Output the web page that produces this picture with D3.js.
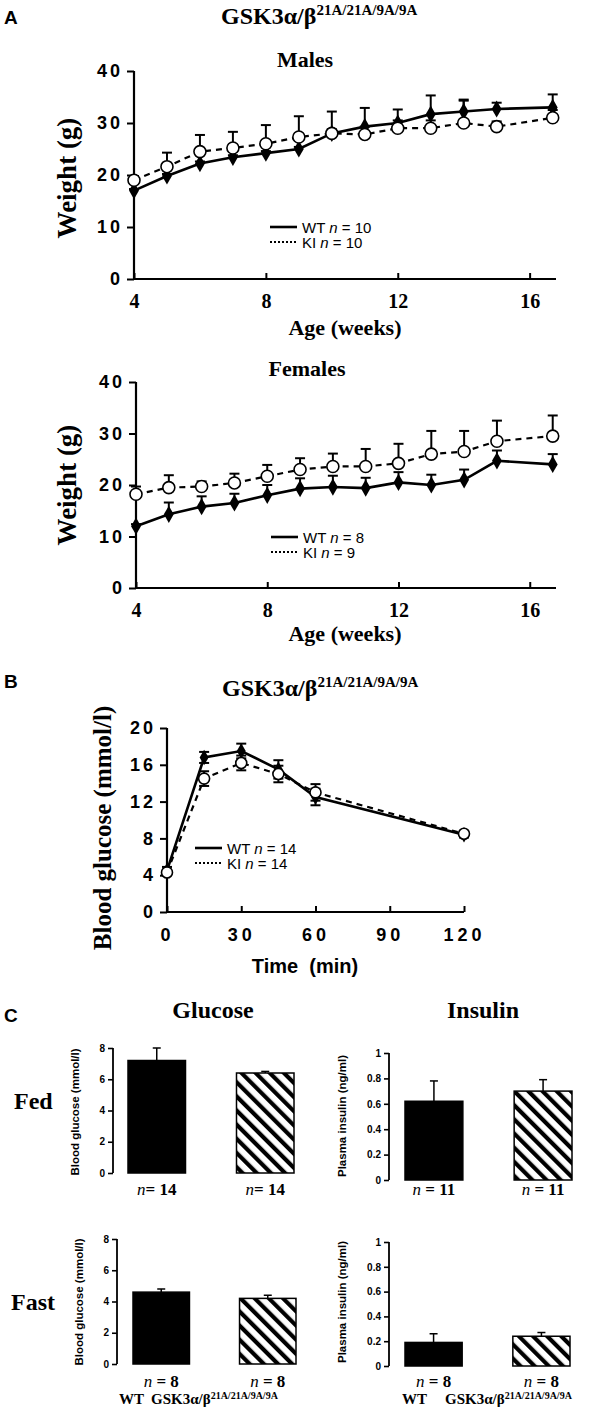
<!DOCTYPE html>
<html><head><meta charset="utf-8">
<script src="https://cdn.jsdelivr.net/npm/d3@7"></script>
<style>
body{margin:0;background:#fff;}
svg{display:block;}
</style>
</head><body>
<svg id="c" width="594" height="1410"></svg>
<script>
// ---------- DATA ----------
const weeks = [4,5,6,7,8,9,10,11,12,13,14,15,16.7];
const weekTicks = [4,8,12,16];
const weightTicks = [0,10,20,30,40];
const maleWT    = [17.0,19.8,22.2,23.4,24.2,25.0,28.0,29.3,30.0,31.7,32.2,32.7,33.0];
const maleWTerr = [0.3,0.4,0.4,0.4,0.4,0.4,0.8,3.6,2.6,3.6,2.3,1.2,2.5];
const maleKI    = [19.0,21.6,24.5,25.2,26.0,27.3,28.0,27.8,29.0,29.0,30.0,29.3,31.0];
const maleKIerr = [0.8,2.7,3.2,3.1,3.6,4.0,4.2,1.5,1.5,1.5,4.3,1.0,1.5];
const femaleWT    = [12.0,14.3,15.8,16.5,18.0,19.3,19.6,19.4,20.5,20.0,21.0,24.7,24.0];
const femaleWTerr = [0.4,2.3,2.0,1.8,2.0,2.0,2.2,2.0,2.0,2.0,2.0,2.0,2.0];
const femaleKI    = [18.2,19.5,19.7,20.4,21.7,23.0,23.6,23.6,24.2,26.0,26.5,28.5,29.5];
const femaleKIerr = [1.5,2.4,1.0,1.8,2.2,2.2,2.5,3.4,3.8,4.5,4.0,4.0,4.0];

const gttTime = [0,15,30,45,60,120];
const timeTicks = [0,30,60,90,120];
const glucoseTicks = [0,4,8,12,16,20];
const gttWT    = [4.5,16.8,17.5,15.5,12.5,8.4];
const gttWTerr = [0.4,0.6,0.8,1.0,0.9,0.3];
const gttKI    = [4.3,14.5,16.2,15.0,13.0,8.5];
const gttKIerr = [0.3,0.8,0.8,0.9,0.9,0.3];

const groups = ["WT","KI"];
const fedGlucose = [7.2,6.4],  fedGlucoseErr = [0.8,0.1],  fedGlucoseN = [14,14];
const fedInsulin = [0.62,0.70], fedInsulinErr = [0.16,0.09], fedInsulinN = [11,11];
const fastGlucose = [4.6,4.2], fastGlucoseErr = [0.2,0.2], fastGlucoseN = [8,8];
const fastInsulin = [0.19,0.24], fastInsulinErr = [0.07,0.03], fastInsulinN = [8,8];
const barGlucoseTicks = [0,2,4,6,8];
const barInsulinTicks = [0,0.2,0.4,0.6,0.8,1];

// ---------- DRAW ----------
const svg = d3.select("#c");
const SERIF = '"Liberation Serif","Times New Roman",serif';
const SANS = '"Liberation Sans",Arial,sans-serif';
const INK = "#000";

function gskTitle(g, x, y, size, sup) {
  const t = g.append("text").attr("x", x).attr("y", y).attr("fill", INK)
    .attr("font-family", SERIF).attr("font-weight", "bold").attr("font-size", size);
  t.append("tspan").text("GSK3α/β");
  t.append("tspan").attr("font-size", sup).attr("dy", -size*0.36).text("21A/21A/9A/9A");
  return t;
}

function lineChart(o) {
  const g = svg.append("g");
  const x = d3.scaleLinear().domain(o.xDomain).range(o.xRange);
  const y = d3.scaleLinear().domain(o.yDomain).range(o.yRange);
  const ya = g.append("g").attr("transform", `translate(${o.xRange[0]},0)`)
    .call(d3.axisLeft(y).tickValues(o.yTicks).tickSize(7).tickFormat(d=>d));
  ya.select(".domain").attr("stroke-width", 2.2).attr("d", `M0,${o.yRange[0]}V${o.yRange[1]}`);
  ya.selectAll(".tick line").attr("stroke-width", 2);
  ya.selectAll(".tick text").attr("font-family", SANS).attr("font-weight", "bold")
    .attr("font-size", 18).attr("letter-spacing", o.yLS).attr("x", -11).attr("fill",INK);
  const xa = g.append("g").attr("transform", `translate(0,${o.yRange[0]})`)
    .call(d3.axisBottom(x).tickValues(o.xTicks).tickSize(-6).tickFormat(d=>d));
  xa.select(".domain").attr("stroke-width", 2.2).attr("d", `M${o.xRange[0]},0H${o.xRange[1]}`);
  xa.selectAll(".tick line").attr("stroke-width", 2);
  xa.selectAll(".tick text").attr("font-family", o.xFont).attr("font-weight", "bold")
    .attr("font-size", o.xFS).attr("letter-spacing", o.xLS).attr("y", o.xLabelDy).attr("fill",INK);
  const line = (arr) => d3.line().x((d,i)=>x(o.xs[i])).y(d=>y(d))(arr);
  g.append("path").attr("d", line(o.ki)).attr("fill","none").attr("stroke",INK)
    .attr("stroke-width", 2.2).attr("stroke-dasharray", "6,5");
  g.append("path").attr("d", line(o.wt)).attr("fill","none").attr("stroke",INK)
    .attr("stroke-width", 2.6);
  function err(vals, errs, both) {
    vals.forEach((v,i)=>{
      const cx = x(o.xs[i]);
      const y1 = y(v+errs[i]), y0 = both ? y(v-errs[i]) : y(v);
      g.append("line").attr("x1",cx).attr("x2",cx).attr("y1",y0).attr("y2",y1)
        .attr("stroke",INK).attr("stroke-width",2);
      g.append("line").attr("x1",cx-5).attr("x2",cx+5).attr("y1",y1).attr("y2",y1)
        .attr("stroke",INK).attr("stroke-width",2);
      if (both) g.append("line").attr("x1",cx-5).attr("x2",cx+5).attr("y1",y0).attr("y2",y0)
        .attr("stroke",INK).attr("stroke-width",2);
    });
  }
  err(o.wt, o.wtErr, o.both);
  err(o.ki, o.kiErr, o.both);
  g.selectAll(".wt").data(o.wt).join("path")
    .attr("d", d3.symbol().type(d3.symbolDiamond).size(o.msize))
    .attr("transform",(d,i)=>`translate(${x(o.xs[i])},${y(d)})`).attr("fill",INK);
  g.selectAll(".ki").data(o.ki).join("circle")
    .attr("cx",(d,i)=>x(o.xs[i])).attr("cy",d=>y(d)).attr("r", o.r)
    .attr("fill","#fff").attr("stroke",INK).attr("stroke-width",1.6);
  const L = o.legend;
  g.append("line").attr("x1",L.x).attr("x2",L.x+27).attr("y1",L.y).attr("y2",L.y)
    .attr("stroke",INK).attr("stroke-width",2.6);
  g.append("line").attr("x1",L.x).attr("x2",L.x+27).attr("y1",L.y+15).attr("y2",L.y+15)
    .attr("stroke",INK).attr("stroke-width",2).attr("stroke-dasharray","2,2");
  [["WT ", L.nwt, 0], ["KI ", L.nki, 15]].forEach(([lab,n,dy])=>{
    const t = g.append("text").attr("x",L.x+32).attr("y",L.y+dy+5.5)
      .attr("font-family",SANS).attr("font-size",15).attr("fill",INK);
    t.append("tspan").text(lab);
    t.append("tspan").attr("font-style","italic").text("n");
    t.append("tspan").text(" = " + n);
  });
  if (o.title) g.append("text").attr("x",o.title.x).attr("y",o.title.y).attr("text-anchor","middle")
    .attr("font-family",SERIF).attr("font-weight","bold").attr("font-size",22).attr("fill",INK).text(o.title.t);
  g.append("text").attr("x",o.xTitle.x).attr("y",o.xTitle.y).attr("text-anchor","middle")
    .attr("font-family",o.xTitle.font).attr("font-weight","bold").attr("font-size",o.xTitle.fs)
    .attr("fill",INK).attr("xml:space","preserve").text(o.xTitle.t);
  g.append("text").attr("transform",`translate(${o.yTitle.x},${o.yTitle.y}) rotate(-90)`)
    .attr("text-anchor","middle").attr("font-family",SERIF).attr("font-weight","bold")
    .attr("font-size",o.yTitle.fs).attr("fill",INK).text(o.yTitle.t);
}

// Panel A
svg.append("text").attr("x",4).attr("y",24).attr("font-family",SANS).attr("font-weight","bold")
  .attr("font-size",19).text("A");
gskTitle(svg, 221, 24, 24, 15);

lineChart({xs:weeks, xDomain:[4,16.8], xRange:[134,556], yDomain:[0,40], yRange:[279,71],
  yTicks:weightTicks, xTicks:weekTicks, yLS:3, xFont:SERIF, xFS:20, xLS:0, xLabelDy:15,
  wt:maleWT, wtErr:maleWTerr, ki:maleKI, kiErr:maleKIerr, both:false, msize:85, r:6,
  legend:{x:270, y:227, nwt:10, nki:10},
  title:{x:305, y:67, t:"Males"},
  xTitle:{x:345, y:335, t:"Age (weeks)", font:SERIF, fs:22},
  yTitle:{x:76, y:178, t:"Weight (g)", fs:27}});

lineChart({xs:weeks, xDomain:[4,16.8], xRange:[136,556], yDomain:[0,40], yRange:[588,382],
  yTicks:weightTicks, xTicks:weekTicks, yLS:3, xFont:SERIF, xFS:20, xLS:0, xLabelDy:15,
  wt:femaleWT, wtErr:femaleWTerr, ki:femaleKI, kiErr:femaleKIerr, both:false, msize:85, r:6,
  legend:{x:271, y:537, nwt:8, nki:9},
  title:{x:307, y:376, t:"Females"},
  xTitle:{x:345, y:641, t:"Age (weeks)", font:SERIF, fs:22},
  yTitle:{x:76, y:485, t:"Weight (g)", fs:27}});

// Panel B
svg.append("text").attr("x",4).attr("y",688).attr("font-family",SANS).attr("font-weight","bold")
  .attr("font-size",19).text("B");
gskTitle(svg, 222, 696, 24, 15);
lineChart({xs:gttTime, xDomain:[0,120], xRange:[167,464], yDomain:[0,20], yRange:[912,728],
  yTicks:glucoseTicks, xTicks:timeTicks, yLS:3, xFont:SANS, xFS:18, xLS:4, xLabelDy:16,
  wt:gttWT, wtErr:gttWTerr, ki:gttKI, kiErr:gttKIerr, both:true, msize:70, r:5.5,
  legend:{x:195, y:848, nwt:14, nki:14},
  title:null,
  xTitle:{x:305, y:973, t:"Time  (min)", font:SANS, fs:20},
  yTitle:{x:111, y:828, t:"Blood glucose (mmol/l)", fs:25}});

// Panel C
svg.append("text").attr("x",4).attr("y",1022).attr("font-family",SANS).attr("font-weight","bold")
  .attr("font-size",19).text("C");
svg.append("text").attr("x",213).attr("y",1018).attr("text-anchor","middle").attr("font-family",SERIF)
  .attr("font-weight","bold").attr("font-size",24).text("Glucose");
svg.append("text").attr("x",483).attr("y",1018).attr("text-anchor","middle").attr("font-family",SERIF)
  .attr("font-weight","bold").attr("font-size",24).text("Insulin");
svg.append("text").attr("x",14).attr("y",1109).attr("font-family",SERIF)
  .attr("font-weight","bold").attr("font-size",24).text("Fed");
svg.append("text").attr("x",11).attr("y",1310).attr("font-family",SERIF)
  .attr("font-weight","bold").attr("font-size",24).text("Fast");

const defs = svg.append("defs");
const pat = defs.append("pattern").attr("id","hatch").attr("patternUnits","userSpaceOnUse")
  .attr("width",10).attr("height",10).attr("patternTransform","rotate(-45)");
pat.append("rect").attr("width",10).attr("height",10).attr("fill","#fff");
pat.append("rect").attr("x",0).attr("width",4.2).attr("height",10).attr("fill",INK);

function barChart(o) {
  const g = svg.append("g");
  const y = d3.scaleLinear().domain(o.yDomain).range(o.yRange);
  const x = d3.scaleBand().domain(groups).range(o.xRange).paddingInner(o.pad).paddingOuter(0);
  const ya = g.append("g").attr("transform",`translate(${o.axisX},0)`)
    .call(d3.axisLeft(y).tickValues(o.yTicks).tickSize(5).tickFormat(d=>d));
  ya.select(".domain").attr("stroke-width",1.8).attr("d",`M0,${o.yRange[0]}V${o.yRange[1]}`);
  ya.selectAll(".tick line").attr("stroke-width",1.6);
  ya.selectAll(".tick text").attr("font-family",SANS).attr("font-weight","bold")
    .attr("font-size",10).attr("x",-8).attr("fill",INK);
  g.append("text").attr("transform",`translate(${o.yTitleX},${o.yTitleY}) rotate(-90)`)
    .attr("text-anchor","middle").attr("font-family",SANS).attr("font-weight","bold")
    .attr("font-size",11.5).attr("fill",INK).text(o.yTitle);
  g.selectAll(".bar").data(o.vals).join("rect")
    .attr("x",(d,i)=>x(groups[i])).attr("width",x.bandwidth())
    .attr("y",d=>y(d)).attr("height",d=>y(0)-y(d))
    .attr("fill",(d,i)=>i===0?INK:"url(#hatch)").attr("stroke",INK).attr("stroke-width",1.5);
  o.vals.forEach((v,i)=>{
    const cx = x(groups[i]) + x.bandwidth()/2;
    const y1 = y(v+o.errs[i]);
    g.append("line").attr("x1",cx).attr("x2",cx).attr("y1",y(v)).attr("y2",y1)
      .attr("stroke",INK).attr("stroke-width",1.5);
    g.append("line").attr("x1",cx-4).attr("x2",cx+4).attr("y1",y1).attr("y2",y1)
      .attr("stroke",INK).attr("stroke-width",1.5);
    const t = g.append("text").attr("x",cx).attr("y",o.nY).attr("text-anchor","middle")
      .attr("font-family",SERIF).attr("font-size",17).attr("fill",INK);
    t.append("tspan").attr("font-style","italic").text("n");
    t.append("tspan").attr("font-weight","bold").text(o.nSpace ? " = " + o.ns[i] : "= " + o.ns[i]);
  });
  if (o.groupLabels) {
    g.append("text").attr("x",o.groupLabels.wt).attr("y",o.groupLabels.y).attr("font-family",SERIF)
      .attr("font-weight","bold").attr("font-size",15).attr("fill",INK).text("WT");
    gskTitle(g, o.groupLabels.ki, o.groupLabels.y, 15, 10);
  }
}

barChart({vals:fedGlucose, errs:fedGlucoseErr, ns:fedGlucoseN, yDomain:[0,8], yRange:[1173,1048],
  yTicks:barGlucoseTicks, axisX:113, xRange:[128,294], pad:0.47, yTitle:"Blood glucose (mmol/l)",
  yTitleX:79, yTitleY:1112, nY:1195, nSpace:false});
barChart({vals:fedInsulin, errs:fedInsulinErr, ns:fedInsulinN, yDomain:[0,1], yRange:[1180,1053],
  yTicks:barInsulinTicks, axisX:389, xRange:[405,572], pad:0.47, yTitle:"Plasma insulin (ng/ml)",
  yTitleX:346, yTitleY:1116, nY:1195, nSpace:true});
barChart({vals:fastGlucose, errs:fastGlucoseErr, ns:fastGlucoseN, yDomain:[0,8], yRange:[1364,1239],
  yTicks:barGlucoseTicks, axisX:117, xRange:[133,296], pad:0.47, yTitle:"Blood glucose (mmol/l)",
  yTitleX:83, yTitleY:1302, nY:1387, nSpace:true, groupLabels:{wt:119, ki:151, y:1404}});
barChart({vals:fastInsulin, errs:fastInsulinErr, ns:fastInsulinN, yDomain:[0,1], yRange:[1366,1242],
  yTicks:barInsulinTicks, axisX:389, xRange:[405,570], pad:0.47, yTitle:"Plasma insulin (ng/ml)",
  yTitleX:346, yTitleY:1302, nY:1387, nSpace:true, groupLabels:{wt:402, ki:445, y:1404}});
</script>
</body></html>
